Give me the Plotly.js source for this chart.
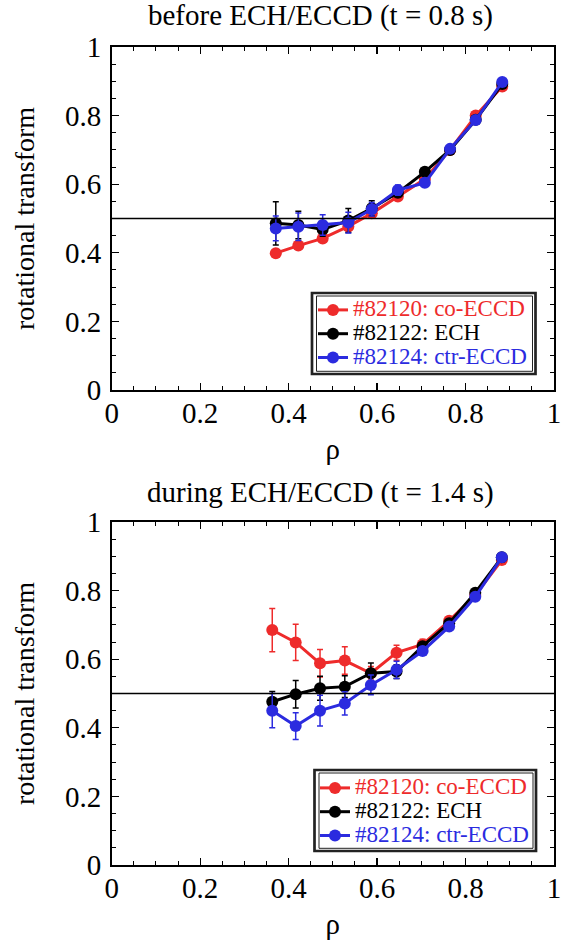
<!DOCTYPE html>
<html><head><meta charset="utf-8">
<script src="https://cdn.plot.ly/plotly-3.0.1.min.js"></script>
<style>html,body{margin:0;padding:0;background:#fff;}#plot{width:565px;height:945px;}</style>
</head><body><div id="plot"></div>
<script>
// ---- data ----
const rhoTop = [0.371, 0.422, 0.477, 0.535, 0.588, 0.647, 0.708, 0.765, 0.823, 0.883];
const coTop = [0.399, 0.421, 0.442, 0.477, 0.515, 0.564, 0.615, 0.700, 0.800, 0.885];
const coTopErr = [0, 0, 0, 0, 0.01, 0.01, 0.005, 0.005, 0.005, 0.005];
const echTop = [0.486, 0.481, 0.468, 0.494, 0.530, 0.575, 0.636, 0.700, 0.788, 0.892];
const echTopErr = [0.063, 0.04, 0.02, 0.035, 0.022, 0.01, 0.005, 0.005, 0.005, 0.005];
const ctrTop = [0.471, 0.476, 0.481, 0.488, 0.527, 0.583, 0.604, 0.703, 0.787, 0.898];
const ctrTopErr = [0.036, 0.04, 0.03, 0.03, 0.02, 0.015, 0.01, 0.005, 0.005, 0.005];

const rhoBot = [0.363, 0.416, 0.471, 0.527, 0.586, 0.644, 0.703, 0.763, 0.822, 0.882];
const coBot = [0.685, 0.649, 0.588, 0.596, 0.559, 0.619, 0.643, 0.712, 0.787, 0.889];
const coBotErr = [0.063, 0.053, 0.04, 0.04, 0.02, 0.022, 0.015, 0.008, 0.005, 0.005];
const echBot = [0.476, 0.498, 0.515, 0.520, 0.559, 0.564, 0.638, 0.705, 0.794, 0.897];
const echBotErr = [0.03, 0.04, 0.035, 0.032, 0.03, 0.02, 0.01, 0.005, 0.005, 0.005];
const ctrBot = [0.450, 0.405, 0.450, 0.471, 0.525, 0.569, 0.624, 0.695, 0.782, 0.897];
const ctrBotErr = [0.05, 0.039, 0.045, 0.034, 0.029, 0.025, 0.01, 0.005, 0.005, 0.005];

const seriesNames = ['#82120: co-ECCD', '#82122: ECH', '#82124: ctr-ECCD'];
const titles = ['before ECH/ECCD (t = 0.8 s)', 'during ECH/ECCD (t = 1.4 s)'];
const xTitle = 'ρ';
const yTitle = 'rotational transform';
const refLevel = 0.5;

// ---- styles ----
const RED = '#ee2b2b', BLACK = '#000000', BLUE = '#2b2bdf';
const colors = [RED, BLACK, BLUE];
const FONT = 'Liberation Serif';

function tr(x, y, err, i, xa, ya, leg) {
  return {
    x: x, y: y, type: 'scatter', mode: 'lines+markers',
    xaxis: xa, yaxis: ya, legend: leg,
    name: '<span style="font-size:23px;font-family:Liberation Serif;color:' + colors[i] + '">' + seriesNames[i] + '</span>',
    line: {color: colors[i], width: 3},
    marker: {color: colors[i], size: 12, symbol: 'circle'},
    error_y: {type: 'data', array: err, visible: true, color: colors[i], thickness: 1.5, width: 3},
    cliponaxis: false
  };
}
const data = [
  tr(rhoTop, coTop, coTopErr, 0, 'x', 'y', 'legend'),
  tr(rhoTop, echTop, echTopErr, 1, 'x', 'y', 'legend'),
  tr(rhoTop, ctrTop, ctrTopErr, 2, 'x', 'y', 'legend'),
  tr(rhoBot, coBot, coBotErr, 0, 'x2', 'y2', 'legend2'),
  tr(rhoBot, echBot, echBotErr, 1, 'x2', 'y2', 'legend2'),
  tr(rhoBot, ctrBot, ctrBotErr, 2, 'x2', 'y2', 'legend2')
];

function xax(anchor) {
  return {
    anchor: anchor, domain: [111.7/565, 554/565], range: [0, 1],
    dtick: 0.2, tick0: 0, ticks: 'inside', ticklen: 7, tickwidth: 1.3, tickcolor: '#000',
    minor: {dtick: 0.05, ticks: 'inside', ticklen: 4, tickwidth: 1, tickcolor: '#000'},
    showline: true, linecolor: '#000', linewidth: 1.6, mirror: 'allticks',
    showgrid: false, zeroline: false, automargin: true, ticklabelstandoff: -3,
    tickfont: {family: FONT, size: 29, color: '#000'},
    title: {text: xTitle, standoff: 10, font: {family: FONT, size: 29, color: '#000'}}
  };
}
function yax(anchor, dom) {
  return {
    anchor: anchor, domain: dom, range: [0, 1],
    dtick: 0.2, tick0: 0, ticks: 'inside', ticklen: 7, tickwidth: 1.3, tickcolor: '#000',
    minor: {dtick: 0.05, ticks: 'inside', ticklen: 4, tickwidth: 1, tickcolor: '#000'},
    showline: true, linecolor: '#000', linewidth: 1.6, mirror: 'allticks',
    showgrid: false, zeroline: false, automargin: true, ticklabelstandoff: 3,
    tickfont: {family: FONT, size: 29, color: '#000'},
    title: {text: yTitle, standoff: 22, font: {family: FONT, size: 28, color: '#000'}}
  };
}

function legendBox(x0, y0, x1, y1) {
  return [
    {type: 'rect', xref: 'paper', yref: 'paper', x0: x0/565, x1: x1/565, y0: 1 - y1/945, y1: 1 - y0/945,
     line: {color: '#222', width: 2.7}, fillcolor: 'rgba(0,0,0,0)', layer: 'above'},
    {type: 'rect', xref: 'paper', yref: 'paper', x0: (x0+4.5)/565, x1: (x1-3)/565, y0: 1 - (y1-2.7)/945, y1: 1 - (y0+3)/945,
     line: {color: '#222', width: 1}, fillcolor: 'rgba(0,0,0,0)', layer: 'above'}
  ];
}

const layout = {
  width: 565, height: 945,
  margin: {l: 0, r: 0, t: 0, b: 0, autoexpand: false},
  paper_bgcolor: '#fff', plot_bgcolor: '#fff',
  font: {family: FONT, color: '#000', size: 16},
  showlegend: true,
  xaxis: xax('y'), yaxis: yax('x', [1 - 390/945, 1 - 47/945]),
  xaxis2: xax('y2'), yaxis2: yax('x2', [1 - 865/945, 1 - 522/945]),
  legend: {x: 313/565, xanchor: 'left', y: 1 - 293/945, yanchor: 'top', bgcolor: 'rgba(255,255,255,0)',
           borderwidth: 0, font: {family: FONT, size: 16}, traceorder: 'normal', itemwidth: 30},
  legend2: {x: 315/565, xanchor: 'left', y: 1 - 771/945, yanchor: 'top', bgcolor: 'rgba(255,255,255,0)',
           borderwidth: 0, font: {family: FONT, size: 16}, traceorder: 'normal', itemwidth: 30},
  shapes: [
    {type: 'line', xref: 'x domain', yref: 'y', x0: 0, x1: 1, y0: refLevel, y1: refLevel, line: {color: '#000', width: 1.3}},
    {type: 'line', xref: 'x2 domain', yref: 'y2', x0: 0, x1: 1, y0: refLevel, y1: refLevel, line: {color: '#000', width: 1.3}}
  ].concat(legendBox(312, 293, 535.5, 374)).concat(legendBox(314.5, 770, 536, 851)),
  annotations: [
    {text: titles[0], xref: 'paper', yref: 'paper', x: 320/565, y: 1 - 16/945, xanchor: 'center', yanchor: 'middle',
     showarrow: false, font: {family: FONT, size: 29, color: '#000'}},
    {text: titles[1], xref: 'paper', yref: 'paper', x: 320/565, y: 1 - 492/945, xanchor: 'center', yanchor: 'middle',
     showarrow: false, font: {family: FONT, size: 29, color: '#000'}}
  ]
};

Plotly.newPlot('plot', data, layout, {staticPlot: true, displayModeBar: false});
</script>
</body></html>
